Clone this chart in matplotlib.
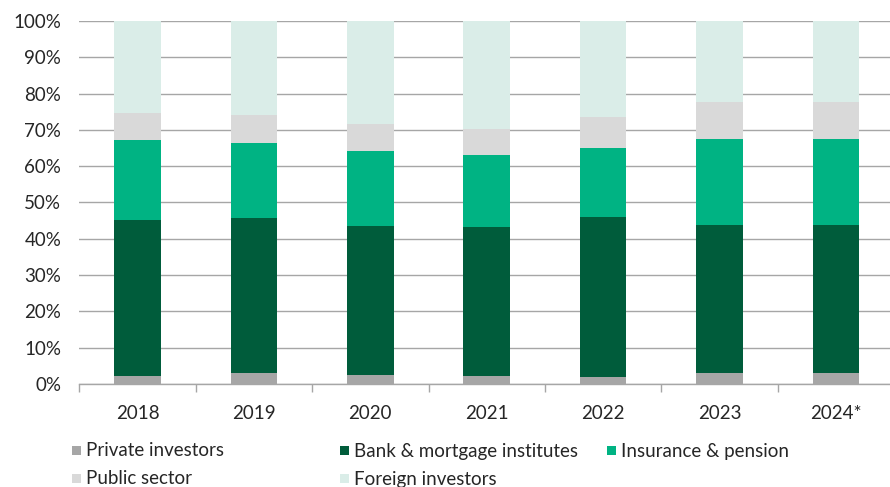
import matplotlib.pyplot as plt
from matplotlib.patches import Rectangle
from matplotlib.ticker import PercentFormatter
import numpy as np

plt.rcParams['font.family'] = ['Lato', 'DejaVu Sans']

years = ["2018", "2019", "2020", "2021", "2022", "2023", "2024*"]
series_names = ["Private investors", "Bank & mortgage institutes",
                "Insurance & pension", "Public sector", "Foreign investors"]
private_investors = [2.2, 3.0, 2.5, 2.2, 2.0, 2.9, 2.9]
bank_mortgage = [43.1, 42.7, 41.1, 41.1, 44.1, 41.0, 41.0]
insurance_pension = [21.8, 20.8, 20.7, 19.8, 19.0, 23.7, 23.7]
public_sector = [7.6, 7.6, 7.4, 7.2, 8.5, 10.2, 10.2]
foreign_investors = [25.3, 25.9, 28.3, 29.7, 26.4, 22.2, 22.2]
colors = ["#a6a6a6", "#005c3b", "#00b383", "#d9d9d9", "#daede8"]

series = [private_investors, bank_mortgage, insurance_pension,
          public_sector, foreign_investors]

fig = plt.figure(figsize=(8.9, 4.87), dpi=100)
ax = fig.add_axes([0.0892, 0.2115, 0.9153, 0.7454])

x = np.arange(len(years))
bottom = np.zeros(len(years))
for vals, col in zip(series, colors):
    ax.bar(x, vals, width=0.40, bottom=bottom, color=col, zorder=3)
    bottom += np.array(vals)

ax.set_xlim(-0.5, len(years) - 0.5)
ax.set_ylim(0, 100)
ax.set_yticks(np.arange(0, 101, 10))
ax.yaxis.set_major_formatter(PercentFormatter(decimals=0))
ax.yaxis.grid(True, color="#a6a6a6", linewidth=1.0, zorder=0)

ax.set_xticks(x)
ax.set_xticklabels(years)
ax.set_xticks(np.arange(len(years) + 1) - 0.5, minor=True)
ax.tick_params(axis="x", which="major", length=0, pad=15, labelsize=13.5, colors="#262626")
ax.tick_params(axis="x", which="minor", length=6, color="#a6a6a6", width=1)
ax.tick_params(axis="y", length=0, pad=13, labelsize=13.5, colors="#262626")

for s in ["top", "right", "left"]:
    ax.spines[s].set_visible(False)
ax.spines["bottom"].set_color("#a6a6a6")
ax.spines["bottom"].set_linewidth(1.0)
ax.spines["bottom"].set_zorder(4)

# hand-placed legend laid out in rows
W, H = 890.0, 487.0
legend_pos = [(72, 450), (340, 450), (607, 450), (72, 478), (340, 478)]
for name, col, (px, py) in zip(series_names, colors, legend_pos):
    fig.patches.append(Rectangle((px / W, 1 - (py + 4.5) / H), 9 / W, 9 / H,
                                 transform=fig.transFigure, facecolor=col,
                                 edgecolor="none"))
    fig.text((px + 14) / W, 1 - (py + 1) / H, name, fontsize=13.5, color="#262626",
             va="center", ha="left")

fig.savefig("out.png", dpi=100)
